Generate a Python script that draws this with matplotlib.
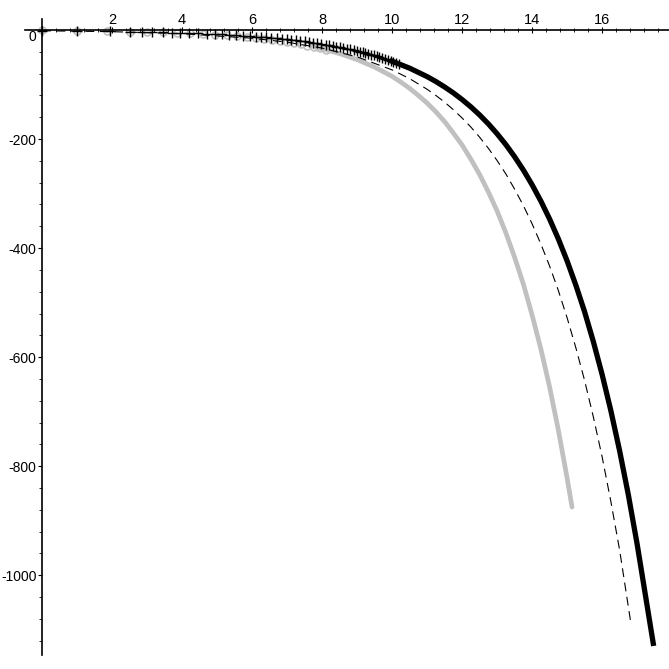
import numpy as np
import matplotlib
matplotlib.use("Agg")
import matplotlib.pyplot as plt
from matplotlib.ticker import FixedLocator

plt.rcParams['font.family'] = ['Liberation Sans', 'DejaVu Sans']
plt.rcParams['axes.unicode_minus'] = False

# black curve: "+" point markers, then a solid thick line
black_mx = [0, 1.0, 1.95, 2.5, 2.85, 3.15, 3.45, 3.7, 3.95, 4.2, 4.45, 4.7, 4.95,
            5.15, 5.35, 5.55, 5.75, 5.95, 6.1, 6.25, 6.4, 6.55, 6.7, 6.85, 7.0,
            7.12, 7.25, 7.38, 7.5, 7.62, 7.74, 7.86, 7.98, 8.1, 8.2, 8.3, 8.4,
            8.5, 8.6, 8.7, 8.8, 8.9, 9.0, 9.08, 9.16, 9.24, 9.32, 9.4, 9.48,
            9.56, 9.64, 9.72, 9.8, 9.88, 9.96, 10.04, 10.12, 10.2]
black_my = [-1.05, -1.57, -2.29, -2.85, -3.28, -3.70, -4.17, -4.61, -5.10, -5.63,
            -6.23, -6.88, -7.61, -8.25, -8.94, -9.69, -10.5, -11.4, -12.1, -12.8,
            -13.6, -14.4, -15.3, -16.3, -17.3, -18.1, -19.1, -20.1, -21.1, -22.1,
            -23.2, -24.4, -25.6, -26.8, -27.9, -29.1, -30.3, -31.5, -32.7, -34.0,
            -35.5, -36.9, -38.4, -39.7, -41.0, -42.3, -43.7, -45.1, -46.6, -48.1,
            -49.7, -51.3, -52.9, -54.7, -56.5, -58.3, -60.2, -62.2]
black_x = [10.0, 10.5, 11.0, 11.25, 11.5, 11.75, 12.0, 12.25, 12.5, 12.75, 13.0,
           13.25, 13.5, 13.75, 14.0, 14.25, 14.5, 14.75, 15.0, 15.25, 15.5, 15.75,
           16.0, 16.25, 16.5, 16.75, 17.0, 17.25, 17.46]
black_y = [-57.3, -70.0, -85.5, -94.5, -104.5, -115.4, -127.6, -141, -155.8,
           -172.2, -190.4, -210.3, -232.5, -256.9, -284, -313.8, -346.8, -383.3,
           -423.6, -468.2, -517, -571.8, -632, -698.4, -772, -853, -943, -1042,
           -1125]

# gray curve: open circle markers, then a thick gray line
gray_mx = [0, 1.0, 1.87, 2.5, 3.0, 3.45, 3.86, 4.23, 4.6, 4.95, 5.27, 5.57, 5.85,
           6.1, 6.35, 6.58, 6.8, 7.0, 7.2, 7.4, 7.58, 7.76, 7.94, 8.1]
gray_my = [-0.92, -1.45, -2.15, -2.85, -3.58, -4.39, -5.29, -6.25, -7.39, -8.66,
           -10.0, -11.5, -13.0, -14.6, -16.3, -18.1, -20.0, -21.9, -24.0, -26.3,
           -28.5, -30.9, -33.6, -36.1]
gray_x = [7.8, 8.0, 8.5, 9.0, 9.5, 10.0, 10.25, 10.5, 10.75, 11.0, 11.25, 11.5,
          11.75, 12.0, 12.25, 12.5, 12.75, 13.0, 13.25, 13.5, 13.75, 14.0, 14.25,
          14.5, 14.75, 15.0, 15.14]
gray_y = [-31.5, -34.5, -43.3, -54.3, -68.1, -85, -95.6, -107, -120, -134, -150,
          -168, -189, -211, -237, -265, -297, -332, -372, -417, -466, -523, -585,
          -655, -734, -822, -875]

# dashed curve
dash_x = [0, 2, 4, 6, 7, 8, 9, 10, 10.5, 11, 11.25, 11.5, 11.75, 12, 12.25, 12.5,
          12.75, 13, 13.25, 13.5, 13.75, 14, 14.25, 14.5, 14.75, 15, 15.25, 15.5,
          15.75, 16, 16.25, 16.5, 16.83]
dash_y = [-1.4, -3.1, -6.8, -15.1, -22.4, -33.2, -49.3, -73.2, -89.2, -108.7,
          -120, -132.4, -146.2, -161.4, -178, -196.6, -217, -239.5, -264, -292,
          -322, -355.6, -392.5, -433, -478, -528, -583, -643, -710, -783, -865,
          -954, -1092]

xticks = [2, 4, 6, 8, 10, 12, 14, 16]
yticks = [0, -200, -400, -600, -800, -1000]

fig = plt.figure(figsize=(6.69, 6.69), dpi=100)
ax = fig.add_axes([0, 0, 1, 1])

gray = '#c0c0c0'
ax.plot(gray_x, gray_y, color=gray, lw=3.4, solid_capstyle='round', zorder=2)
ax.plot(gray_mx, gray_my, 'o', mfc='none', mec=gray, ms=5, mew=1.2, zorder=2)
ax.plot(dash_x, dash_y, color='black', lw=0.8, dashes=(8, 5), zorder=3)
ax.plot(black_x, black_y, color='black', lw=3.8, zorder=4)
ax.plot(black_mx, black_my, '+', color='black', ms=7, mew=1.0, zorder=4)

ax.set_xlim(-1.2, 17.91)
ax.set_ylim(-1172, 55)

for s in ['right', 'bottom']:
    ax.spines[s].set_visible(False)
ax.spines['left'].set_position(('data', 0))
ax.spines['top'].set_position(('data', 0))
ax.spines['left'].set_bounds(-1147, 20)
ax.spines['top'].set_bounds(-0.49, 17.9)
ax.spines['left'].set_linewidth(1.2)
ax.spines['top'].set_linewidth(1.2)

ax.xaxis.set_ticks_position('top')
ax.set_xticks(xticks)
ax.set_xticklabels([str(v) for v in xticks])
ax.xaxis.set_minor_locator(FixedLocator(np.arange(0.4, 17.8, 0.4)))
ax.tick_params(axis='x', which='major', direction='inout', length=4, pad=0, labelsize=10.5)
ax.tick_params(axis='x', which='minor', direction='inout', length=2.5)

ax.yaxis.set_ticks_position('left')
ax.set_yticks(yticks)
ax.set_yticklabels([str(v) for v in yticks])
ax.yaxis.set_minor_locator(FixedLocator(np.arange(-1120, 1, 40)))
ax.tick_params(axis='y', which='major', direction='out', length=3, pad=1, labelsize=10)
ax.tick_params(axis='y', which='minor', direction='out', length=2)
# Maple puts the 0 label just below the horizontal axis
ax.get_yticklabels()[0].set_verticalalignment('top')

ax.set_facecolor('white')
fig.savefig('out.png', dpi=100, facecolor='white')
